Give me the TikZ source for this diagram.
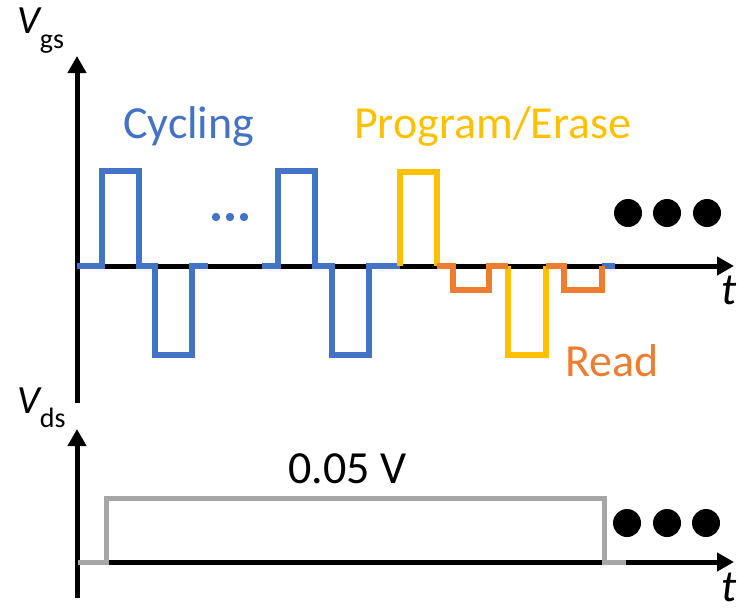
\documentclass[tikz,border=0pt]{standalone}
\usepackage{fontspec}
\setmainfont{Carlito}
\usetikzlibrary{arrows.meta}
\definecolor{cycblue}{HTML}{4472C4}
\definecolor{pegold}{HTML}{FFC000}
\definecolor{rdorange}{HTML}{ED7D31}
\definecolor{dsgray}{HTML}{A6A6A6}
\tikzset{
  axis/.style={line width=5pt, -{Triangle[length=17pt,width=18pt]}},
  wave/.style={line width=5.5pt, line join=miter},
  lbl/.style={inner sep=0pt, anchor=base west, font=\fontsize{46}{46}\selectfont},
  tlbl/.style={inner sep=0pt, anchor=base, font=\fontsize{45}{45}\selectfont\itshape},
  more/.style={fill=black, draw=none},
}
\begin{document}
\begin{tikzpicture}[x=1pt, y=-1pt]
\useasboundingbox (0,0) rectangle (738,611);

% ---- V_gs panel: axes
\coordinate (gsBot) at (77,403);
\coordinate (gsTop) at (77,56);
\coordinate (gsL) at (75,266);
\coordinate (gsR) at (734,266);
\draw[axis] (gsBot) -- (gsTop);
\draw[axis] (gsL) -- (gsR);

% ---- V_ds panel: axes
\coordinate (dsBot) at (77,598);
\coordinate (dsTop) at (77,429);
\coordinate (dsL) at (75,562);
\coordinate (dsR) at (734,562);
\draw[axis] (dsBot) -- (dsTop);
\draw[axis] (dsL) -- (dsR);

% ---- cycling pulses (blue)
\draw[wave, cycblue] (77,266) -- (102,266) -- (102,171) -- (139,171) -- (139,266)
  -- (155,266) -- (155,355) -- (192,355) -- (192,266) -- (208,266);
\draw[wave, cycblue] (262,266) -- (278,266) -- (278,171) -- (315,171) -- (315,266)
  -- (332,266) -- (332,355) -- (369,355) -- (369,266) -- (400,266);
\draw[wave, cycblue] (602,266) -- (615,266);

% ---- program / erase pulses (gold)
\draw[wave, pegold] (400,266) -- (400,172) -- (437,172) -- (437,266);
\draw[wave, pegold] (508,266) -- (508,355) -- (546,355) -- (546,266);

% ---- read pulses (orange)
\draw[wave, rdorange] (437,266) -- (453,266) -- (453,290) -- (489,290) -- (489,266) -- (508,266);
\draw[wave, rdorange] (546,266) -- (564,266) -- (564,290) -- (602,290) -- (602,266);

% ---- drain bias (gray)
\draw[line width=5pt, dsgray, line join=miter] (78,562) -- (106,562) -- (106,498)
  -- (604,498) -- (604,562) -- (626,562);

% ---- continuation dots
\foreach \cx in {628,667,707} \fill[more] (\cx,213) circle (14pt);
\foreach \cx in {627,667,706} \fill[more] (\cx,523) circle (14pt);
\foreach \cx in {216,230,244} \fill[cycblue] (\cx,217) circle (4.2pt);

% ---- labels
\node[inner sep=0pt, anchor=base west] (vgs) at (17,33)
  {\fontsize{40}{40}\selectfont\itshape V\upshape\raisebox{-15pt}{\fontsize{28}{28}\selectfont gs}};
\node[inner sep=0pt, anchor=base west] (vds) at (17,413)
  {\fontsize{40}{40}\selectfont\itshape V\upshape\raisebox{-14pt}{\fontsize{28}{28}\selectfont ds}};
\node[tlbl] (tgs) at (729,304) {t};
\node[tlbl] (tds) at (729,601) {t};
\node[lbl, text=cycblue] (cyc) at (123,138) {Cycling};
\node[lbl, text=pegold] (pe) at (354,138) {Program/Erase};
\node[lbl, text=rdorange] (rd) at (565,376) {Read};
\node[lbl] (vbias) at (288,483) {0.05 V};
\end{tikzpicture}
\end{document}
